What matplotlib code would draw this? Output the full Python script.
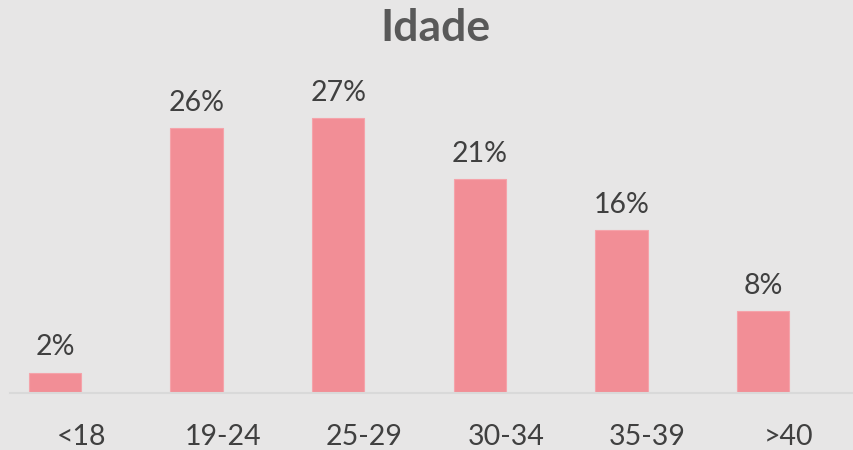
import matplotlib.pyplot as plt
import matplotlib.transforms as mtransforms
import numpy as np

categories = ["<18", "19-24", "25-29", "30-34", "35-39", ">40"]
values = [2, 26, 27, 21, 16, 8]

plt.rcParams['font.family'] = ['Lato', 'DejaVu Sans']

fig = plt.figure(figsize=(8.54, 4.5), dpi=100, facecolor='#E7E6E6')
# axes: pixel x 10..854, y 70..393 (from top)
ax = fig.add_axes([10/854, (450-393)/450, 844/854, (393-70)/450])
ax.set_facecolor('#E7E6E6')

x = np.arange(len(categories))
ax.bar(x, values, width=0.37, color='#F28E96', edgecolor='#F5A3AA', linewidth=0.8, zorder=2)

for xi, v in zip(x, values):
    ax.text(xi, v + 1.2, f"{v}%", ha='center', va='bottom', fontsize=20.5, color='#404040')

ax.set_xlim(-0.318, 5.643)
ax.set_ylim(0, 31.7)
ax.set_yticks([])
ax.set_xticks(x)
ax.set_xticklabels(categories, fontsize=20.5, color='#404040')
ax.tick_params(axis='x', length=0, pad=22)
# labels sit a little right of the bars in the original
offset = mtransforms.ScaledTranslation(0.26, 0, fig.dpi_scale_trans)
for lbl in ax.get_xticklabels():
    lbl.set_transform(lbl.get_transform() + offset)
for s in ['top', 'right', 'left']:
    ax.spines[s].set_visible(False)
ax.spines['bottom'].set_color('#D9D9D9')
ax.spines['bottom'].set_linewidth(1.5)

fig.text(435/854, 1 - 28/450, "Idade", ha='center', va='center', fontsize=32,
         fontweight='bold', color='#595959')

fig.savefig('out.png', dpi=100, facecolor=fig.get_facecolor())
